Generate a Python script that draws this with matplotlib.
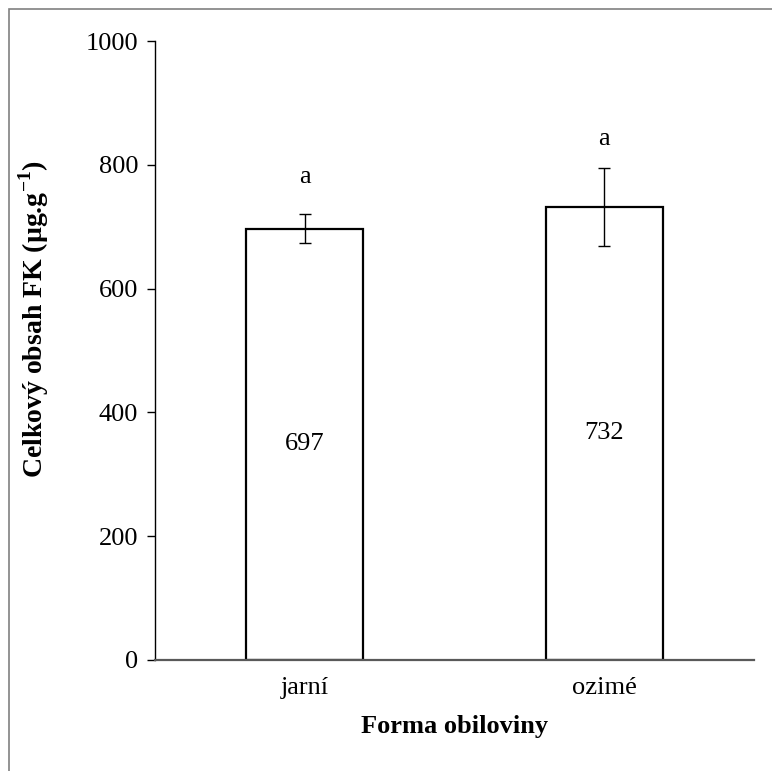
import matplotlib.pyplot as plt
from matplotlib.patches import Rectangle

# data
categories = ["jarní", "ozimé"]
values = [697, 732]
errors = [23, 63]
letters = ["a", "a"]
letter_y = [780, 842]

plt.rcParams["font.family"] = ["Liberation Serif", "DejaVu Serif"]
plt.rcParams["font.size"] = 19
plt.rcParams["mathtext.fontset"] = "custom"
plt.rcParams["mathtext.rm"] = "Liberation Serif"
plt.rcParams["mathtext.bf"] = "Liberation Serif:bold"

fig = plt.figure(figsize=(7.72, 7.71), dpi=100)
ax = fig.add_axes([0.2008, 0.1440, 0.9767 - 0.2008, 0.9468 - 0.1440])

x = range(len(categories))
ax.bar(x, values, width=0.39, color="white", edgecolor="black", linewidth=1.6, zorder=2)
ax.errorbar(x, values, yerr=errors, fmt="none", ecolor="black", elinewidth=1.0,
            capsize=4.3, capthick=1.0, zorder=3)

for i, v in enumerate(values):
    ax.text(i, v / 2, str(v), ha="center", va="center", fontsize=19)
    ax.text(i, letter_y[i], letters[i], ha="center", va="center", fontsize=19)

ax.set_xlim(-0.5, 1.5)
ax.set_ylim(0, 1000)
ax.set_yticks(range(0, 1001, 200))
ax.set_xticks(list(x))
ax.set_xticklabels(categories)
ax.tick_params(axis="x", length=0, pad=12)
ax.tick_params(axis="y", direction="out", length=6, width=1.0, pad=6)

for s in ["top", "right"]:
    ax.spines[s].set_visible(False)
ax.spines["left"].set_color("black")
ax.spines["left"].set_linewidth(1.0)
ax.spines["bottom"].set_color("#595959")
ax.spines["bottom"].set_linewidth(1.6)

ax.set_xlabel("Forma obiloviny", fontweight="bold", labelpad=12)
ax.set_ylabel(r"Celkový obsah FK (µg.g$^{\mathbf{-1}}$)", fontweight="bold", fontsize=20)
ax.yaxis.set_label_coords(-0.174, 0.551)

# outer border of chart area
fig.patches.append(Rectangle((9 / 772, -0.1), 1.2, 1 - 9 / 771 + 0.1,
                             transform=fig.transFigure, fill=False,
                             edgecolor="#808080", linewidth=1.2))

fig.savefig("out.png", dpi=100)
